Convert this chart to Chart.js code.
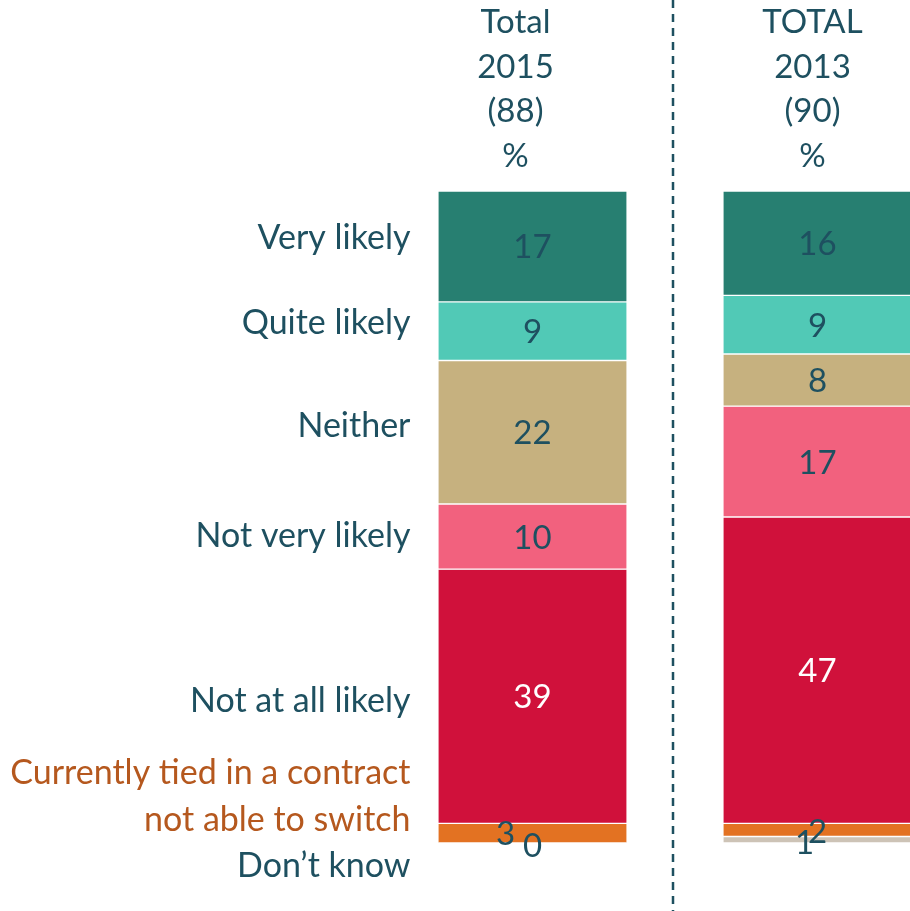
<!DOCTYPE html>
<html>
<head>
<meta charset="utf-8">
<script src="https://cdn.jsdelivr.net/npm/chart.js@4.4.1/dist/chart.umd.min.js"></script>
<style>
  html, body { margin: 0; padding: 0; background: #ffffff; overflow: hidden; }
  canvas { display: block; }
</style>
</head>
<body>
<canvas id="chart" width="960" height="911"></canvas>
<script>
// Column headers (one array of lines per bar)
const columnHeaders = [
  ['Total', '2015', '(88)', '%'],
  ['TOTAL', '2013', '(90)', '%']
];
const columnKeys = ['Total 2015', 'TOTAL 2013'];

// Answer categories, top to bottom
const responses = [
  'Very likely',
  'Quite likely',
  'Neither',
  'Not very likely',
  'Not at all likely',
  'Currently tied in a contract\nnot able to switch',
  'Don\u2019t know'
];

// Percentages per column
const total2015 = [17, 9, 22, 10, 39, 3, 0];
const total2013 = [16, 9, 8, 17, 47, 2, 1];

// Styling
const segmentColors = ['#277F71', '#51C9B6', '#C6B17F', '#F2617E', '#D0113B', '#E37222', '#CDC3B6'];
const valueColors   = ['#1E5060', '#1E5060', '#1E5060', '#1E5060', '#FFFFFF', '#1E5060', '#1E5060'];
const responseColors = ['#1E5060', '#1E5060', '#1E5060', '#1E5060', '#1E5060', '#B5581E', '#1E5060'];
const TEXT = '#1E5060';
const FONT = '33px Lato';
const LABEL_FONT = '34px Lato';

// Baseline of each response label, relative to the middle of its 2015 segment
const responseBaselineShift = [3, 3, 5, 10, 16, -49, 34];
const responseLineGap = 47;
// Nudges for value labels on thin segments: [dataset, column] -> [dx, dy]
const valueShift = { '5,0': [-27, 0], '6,0': [0, 2], '5,1': [0, 1], '6,1': [-13, 2] };
const headerShift = [-17, -5];

const annotate = {
  id: 'annotate',
  afterDatasetsDraw(chart) {
    const ctx = chart.ctx;
    const xs = chart.scales.x;
    ctx.save();
    ctx.font = FONT;

    // dashed separator between the columns
    const midX = (xs.getPixelForValue(0) + xs.getPixelForValue(1)) / 2 - 2;
    ctx.strokeStyle = TEXT;
    ctx.lineWidth = 2.5;
    ctx.setLineDash([8, 6]);
    ctx.beginPath();
    ctx.moveTo(midX, 0);
    ctx.lineTo(midX, chart.height);
    ctx.stroke();
    ctx.setLineDash([]);

    // column headers
    ctx.fillStyle = TEXT;
    ctx.textAlign = 'center';
    ctx.textBaseline = 'alphabetic';
    columnHeaders.forEach((lines, j) => {
      const cx = xs.getPixelForValue(j) + headerShift[j];
      lines.forEach((line, k) => ctx.fillText(line, cx, 33 + k * 44.7));
    });

    // values inside segments
    chart.data.datasets.forEach((ds, i) => {
      const meta = chart.getDatasetMeta(i);
      meta.data.forEach((bar, j) => {
        const s = valueShift[i + ',' + j] || [0, 0];
        const cy = (bar.y + bar.base) / 2;
        ctx.fillStyle = valueColors[i];
        ctx.textAlign = 'center';
        ctx.fillText(String(ds.data[j]), bar.x + s[0], cy + 12 + s[1]);
      });
    });

    // response labels to the left
    ctx.font = LABEL_FONT;
    const first = chart.getDatasetMeta(0).data[0];
    const rightEdge = first.x - first.width / 2 - 28;
    ctx.textAlign = 'right';
    responses.forEach((label, i) => {
      const bar = chart.getDatasetMeta(i).data[0];
      const cy = (bar.y + bar.base) / 2;
      ctx.fillStyle = responseColors[i];
      label.split('\n').forEach((line, k) => {
        ctx.fillText(line, rightEdge, cy + responseBaselineShift[i] + k * responseLineGap);
      });
    });
    ctx.restore();
  }
};

new Chart(document.getElementById('chart'), {
  type: 'bar',
  data: {
    labels: columnKeys,
    datasets: responses.map((r, i) => ({
      label: r,
      data: [total2015[i], total2013[i]],
      backgroundColor: segmentColors[i],
      borderColor: '#FFFFFF',
      borderWidth: { top: 1, bottom: 1, left: 0, right: 0 },
      borderSkipped: false,
      barThickness: 188
    }))
  },
  options: {
    responsive: false,
    animation: false,
    layout: { padding: { left: 390, right: 0, top: 191, bottom: 68 } },
    plugins: { legend: { display: false }, tooltip: { enabled: false } },
    scales: {
      x: { stacked: true, display: false },
      y: { stacked: true, display: false, min: 0, max: 100, reverse: true }
    }
  },
  plugins: [annotate]
});
</script>
</body>
</html>
